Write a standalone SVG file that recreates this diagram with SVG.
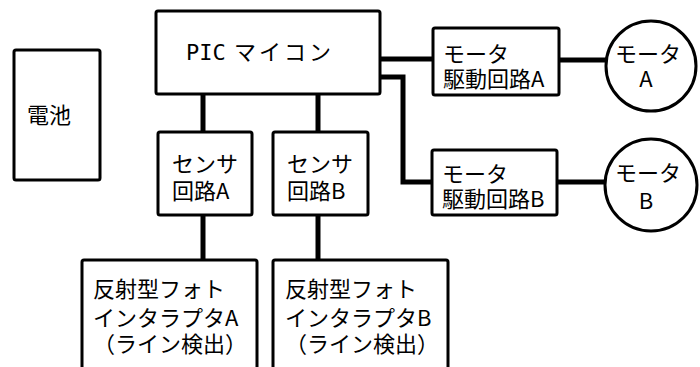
<svg xmlns="http://www.w3.org/2000/svg" width="700" height="367" viewBox="0 0 700 367">
<style>
.box{fill:#fff;stroke:#000;stroke-width:3}
.wire{fill:none;stroke:#000;stroke-width:5}
text{font-family:"Noto Sans CJK JP","Noto Sans",sans-serif;font-size:22px;fill:#000}
.mono{font-family:"DejaVu Sans Mono","Liberation Mono",monospace}
</style>
<rect width="700" height="367" fill="#fff"/>
<g id="connectors">
<path class="wire" d="M380,59 H433"/>
<path class="wire" d="M559,60 H606"/>
<path class="wire" d="M380,77 H403 V182 H432"/>
<path class="wire" d="M557,182 H606"/>
<path class="wire" d="M203,94 V132"/>
<path class="wire" d="M318,94 V132"/>
<path class="wire" d="M203,215 V260"/>
<path class="wire" d="M318,215 V260"/>
</g>
<g id="battery">
<rect class="box" x="14" y="50" width="86" height="130" rx="2"/>
<text x="27" y="123">電池</text>
</g>
<g id="pic">
<rect class="box" x="156" y="11" width="224" height="83" rx="2"/>
<text x="186" y="60"><tspan class="mono">PIC</tspan><tspan x="234" letter-spacing="3">マイコン</tspan></text>
</g>
<g id="sensorA">
<rect class="box" x="158" y="132" width="94" height="83" rx="2"/>
<text><tspan x="172" y="172">センサ</tspan><tspan x="172" y="199">回路A</tspan></text>
</g>
<g id="sensorB">
<rect class="box" x="273" y="132" width="95" height="83" rx="2"/>
<text><tspan x="287" y="172">センサ</tspan><tspan x="287" y="199">回路B</tspan></text>
</g>
<g id="photoA">
<rect class="box" x="82" y="260" width="175" height="112" rx="2"/>
<text><tspan x="93" y="297">反射型フォト</tspan><tspan x="93" y="326">インタラプタA</tspan><tspan x="93" y="352">（ライン検出）</tspan></text>
</g>
<g id="photoB">
<rect class="box" x="273" y="260" width="175" height="112" rx="2"/>
<text><tspan x="285" y="297">反射型フォト</tspan><tspan x="285" y="326">インタラプタB</tspan><tspan x="285" y="352">（ライン検出）</tspan></text>
</g>
<g id="driveA">
<rect class="box" x="433" y="28" width="126" height="67" rx="2"/>
<text><tspan x="443" y="62">モータ</tspan><tspan x="443" y="87">駆動回路A</tspan></text>
</g>
<g id="driveB">
<rect class="box" x="432" y="150" width="125" height="65" rx="2"/>
<text><tspan x="442" y="182">モータ</tspan><tspan x="442" y="207">駆動回路B</tspan></text>
</g>
<g id="motorA">
<circle class="box" cx="651" cy="66" r="45"/>
<text text-anchor="middle"><tspan x="648" y="62">モータ</tspan><tspan x="646" y="87">A</tspan></text>
</g>
<g id="motorB">
<circle class="box" cx="651" cy="185" r="46"/>
<text text-anchor="middle"><tspan x="648" y="181">モータ</tspan><tspan x="646" y="209">B</tspan></text>
</g>
</svg>
